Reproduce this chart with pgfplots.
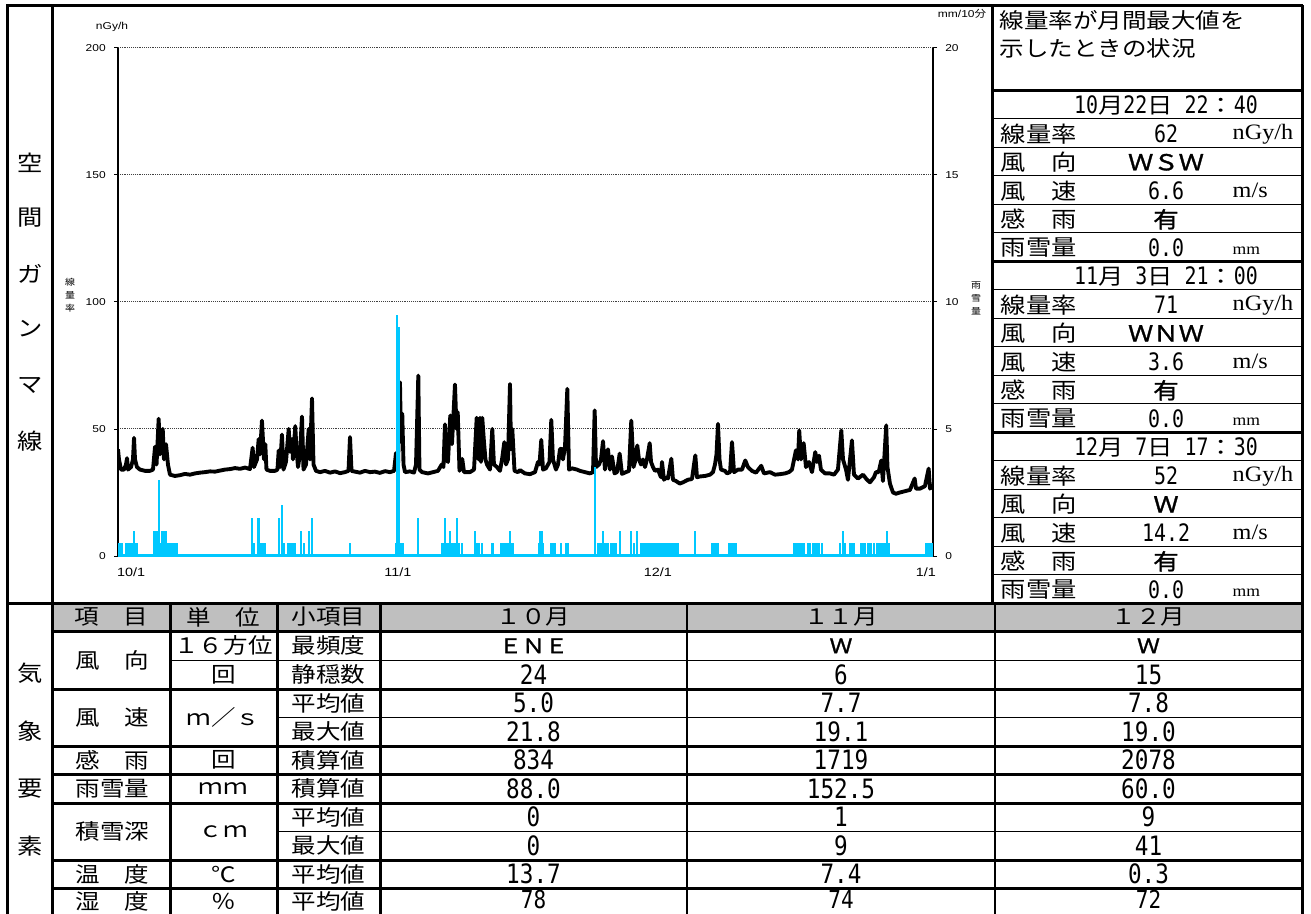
\documentclass[border=0pt]{standalone}
\usepackage{pgfplots}
\pgfplotsset{compat=1.18}
\usepackage{pgfplotstable}
\usepackage{fontspec}
\setmainfont{Liberation Sans}
\newfontfamily\jp{Noto Sans CJK JP}[FakeStretch=1.15]
\newfontfamily\jpb{Noto Sans CJK JP}[FakeStretch=1.15,FakeBold=1.5]
\newfontfamily\monoA{DejaVu Sans Mono}[FakeStretch=0.83]
\newfontfamily\monoB{DejaVu Sans Mono}[FakeStretch=0.85]
\newfontfamily\tk{Liberation Sans}[FakeStretch=1.2]
\newfontfamily\ser{Liberation Serif}[FakeStretch=1.1]
\newcommand\fs[1]{\fontsize{#1}{#1}\selectfont}
\newcommand\D[1]{{\monoA\fs{18}#1}}
\newcommand\J[1]{{\jp\fs{16.5}#1}}
\newcommand\B[1]{{\monoB\fs{20}#1}}
\newcommand\T[1]{{\jp\fs{16}#1}}
\newcommand\UG{{\ser\fs{16.5}nGy/h}}
\newcommand\UM{{\ser\fs{16.5}m/s}}
\definecolor{rain}{RGB}{0,200,255}

\pgfplotstableread{
d v
0 42
0.11 38
0.34 34
0.68 34
0.90 36
1.02 38.5
1.13 34
1.47 35
1.69 38
1.81 46.5
1.92 38
2.14 35
2.48 34
3.05 33.5
3.61 33.5
3.95 34
4.18 43
4.35 36
4.59 54
4.74 40
5.05 50
5.19 38
5.42 44
5.64 36
5.87 32
6.43 31.5
7.00 31.8
7.56 32.3
8.13 32
8.69 32.5
9.26 32.8
9.82 33
10.39 33.3
10.95 33.2
11.51 33.6
12.08 34
12.64 34.2
13.21 34.6
13.77 34.3
14.34 34.8
14.90 34.2
15.20 42.6
15.35 35
15.69 38
15.88 46
16.03 40
16.25 53.3
16.48 38
16.63 44
16.76 34
17.16 33.5
17.72 33.5
18.00 34
18.14 41.5
18.29 35
18.51 47.8
18.68 34
18.96 37
19.27 50
19.42 41
19.64 46
19.75 38
20.01 51.1
20.15 42
20.32 35
20.54 40
20.77 54.9
20.94 34
21.22 36
21.53 50
21.67 38
21.90 62
22.07 36
22.35 33.5
22.80 33
23.37 33.5
23.93 32.8
24.50 33.3
25.06 32.6
25.62 33
26.02 33.5
26.19 46.8
26.36 33.5
26.75 33.2
27.32 32.8
27.88 33.5
28.45 33
29.01 33.2
29.57 32.7
30.14 33.4
30.70 33
31.16 33.5
31.38 40.5
31.61 36
31.83 68.4
31.95 45
32.09 56
32.23 36
32.40 33
32.96 33.3
33.41 32.8
33.64 36
33.90 71
34.03 34
34.32 33
34.99 32.5
35.56 33
36.12 33.5
36.54 36
36.74 35
36.91 51.8
37.08 38
37.25 37
37.51 55.3
37.70 44
38.04 67.5
38.21 50
38.35 56.6
38.55 33.5
38.86 38.2
39.06 33
39.73 33
40.19 34
40.49 54.4
40.69 38
40.86 54.4
40.98 37
41.12 54.4
41.31 45
41.48 38
41.65 36
41.99 34
42.25 50
42.44 36
42.78 35
43.12 33.5
43.35 38
43.61 44.8
43.80 36
44.02 38
44.25 67.7
44.36 42
44.51 50
44.76 33.5
45.15 33
45.38 33.8
45.94 32.5
46.51 32.2
47.07 33
47.41 37
47.58 36
47.78 45.7
47.98 34
48.31 34.5
48.54 36
48.71 37
48.91 53.6
49.10 38
49.44 34
49.67 36
49.89 42
50.04 42.2
50.23 38
50.46 43
50.72 65.8
50.91 34
51.25 34.5
51.81 34
52.15 33.5
52.72 33
53.28 32.5
53.62 33
53.81 57.3
53.96 35
54.30 36
54.52 38
54.75 45.2
54.97 34
55.31 42
55.54 34
55.76 39.2
56.05 32.5
56.33 33
56.63 40.3
56.89 32.3
57.34 33
57.68 33.5
57.94 53.3
58.19 35
58.36 37
58.62 43.5
58.81 38
59.04 36
59.26 38
59.49 35
59.71 38
60.02 44.4
60.17 37
60.39 35
60.62 33.5
60.95 34
61.29 31
61.41 37
61.63 30
61.86 31
62.08 30.5
62.46 38.3
62.65 30
62.99 29.5
63.41 28.5
63.78 29
64.34 30
64.79 30.3
65.17 39.6
65.36 31
65.70 31.3
66.26 31.5
66.83 32
67.16 33
67.39 36
67.56 40
67.73 52
67.90 38
68.07 34
68.52 33.5
68.75 32.5
69.09 33
69.31 44.8
69.54 33
69.99 34
70.44 34
70.81 37.6
71.11 35
71.56 33.5
72.02 32.8
72.61 35.5
72.92 32.5
73.60 33
74.16 32
74.72 32.2
75.29 32.5
75.74 33
76.08 34
76.53 41.6
76.76 38
76.90 49.4
77.10 38
77.40 44.4
77.66 35
78.00 37
78.34 33
78.71 40.9
78.90 37
79.13 39.5
79.35 34
79.81 32.5
80.37 32.5
80.82 32
81.27 34
81.65 49.4
81.84 38
82.18 34
82.40 30
82.85 45.5
83.08 32
83.53 30.5
84.10 32
84.55 30
84.89 29
85.34 31
85.56 33
85.87 33
86.16 37.6
86.35 29.5
86.72 51.4
86.86 35
87.14 28.5
87.48 25
87.82 24.5
88.27 25
88.83 25.5
89.40 26
89.93 30.5
90.08 26.5
90.53 26.5
91.09 27.5
91.51 34.4
91.66 26.5
92.00 28
}\dose

\pgfplotstableread{
d p
0.08 0.5
0.28 0.5
0.45 0.5
0.96 0.5
1.19 0.5
1.52 0.5
1.69 0.5
1.84 1.0
1.98 0.5
2.14 0.5
4.12 1.0
4.35 1.0
4.59 3.0
4.77 0.5
4.97 1.0
5.19 1.0
5.42 1.0
5.64 0.5
5.87 0.5
6.10 0.5
6.32 0.5
6.60 0.5
15.13 1.5
15.32 0.5
15.80 1.5
15.95 1.5
16.20 0.5
16.42 0.5
16.63 0.5
18.14 1.5
18.51 2.0
18.70 0.5
19.19 0.5
19.42 0.5
19.64 0.5
19.87 0.5
20.01 0.5
20.69 1.0
20.96 0.5
21.59 1.0
21.90 1.5
26.19 0.5
31.38 0.5
31.53 9.5
31.72 9.0
31.89 0.5
32.11 0.5
33.83 1.5
36.54 0.5
36.72 0.5
36.91 1.5
37.10 0.5
37.28 0.5
37.48 1.0
37.67 0.5
37.87 0.5
38.04 0.5
38.30 1.5
38.49 0.5
38.80 0.5
40.30 1.0
40.49 0.5
40.75 0.5
41.12 0.5
42.18 0.5
42.36 0.5
43.23 0.5
43.46 0.5
43.68 0.5
43.91 0.5
44.06 0.5
44.25 1.0
44.44 0.5
44.62 0.5
47.49 0.5
47.64 1.0
47.81 1.0
47.98 0.5
48.91 0.5
49.16 0.5
49.29 0.5
50.04 0.5
50.61 0.5
50.80 0.5
53.81 3.5
54.18 0.5
54.41 0.5
54.63 0.5
54.78 1.0
54.97 0.5
55.20 0.5
55.31 0.5
55.68 0.5
55.88 0.5
56.05 0.5
56.25 0.5
56.67 1.0
57.94 1.0
58.25 0.5
58.58 1.0
59.00 0.5
59.21 0.5
59.43 0.5
59.66 0.5
59.88 0.5
60.11 0.5
60.33 0.5
60.56 0.5
60.79 0.5
61.01 0.5
61.24 0.5
61.46 0.5
61.69 0.5
61.91 0.5
62.14 0.5
62.37 0.5
62.59 0.5
62.82 0.5
63.04 0.5
63.21 0.5
65.17 1.0
67.09 0.5
67.28 0.5
67.50 0.5
67.73 0.5
69.00 0.5
69.19 0.5
69.42 0.5
69.64 0.5
69.75 0.5
76.38 0.5
76.59 0.5
76.81 0.5
77.04 0.5
77.21 0.5
77.40 0.5
77.88 0.5
78.14 0.5
78.52 0.5
78.73 0.5
78.90 0.5
79.09 0.5
79.47 0.5
81.53 0.5
81.84 1.0
82.10 0.5
82.66 0.5
82.85 0.5
83.05 0.5
83.90 0.5
84.15 0.5
84.35 0.5
84.73 0.5
85.00 0.5
85.30 0.5
85.68 0.5
85.90 0.5
86.13 0.5
86.35 0.5
86.58 0.5
86.80 1.0
87.00 0.5
91.21 0.5
91.43 0.5
91.66 0.5
91.88 0.5
}\rain

\begin{document}
\begin{tikzpicture}
\path[use as bounding box] (0pt,0pt) rectangle (983.25pt,-685.5pt);
\pgfplotsset{
  common/.style={
    at={(88.5pt,-417pt)}, anchor=south west, scale only axis,
    width=611.25pt, height=381.2pt, xmin=0, xmax=92,
    tick align=outside, major tick length=3pt,
    tick style={black, line width=0.6pt},
    axis line style={black, line width=0.8pt},
    /pgf/number format/assume math mode=true,
    yticklabel style={font=\tk\fs{7.5}},
  }
}
\begin{axis}[common,
  ymin=0, ymax=200, ytick={0,50,100,150,200},
  axis x line*=bottom, axis y line*=left,
  ymajorgrids, grid style={densely dotted, black!75, line width=0.7pt},
  xtick={1.47,31.6,60.95,91.2}, xticklabels={10/1,11/1,12/1,1/1},
  xtick style={draw=none},
  xticklabel style={font=\tk\fs{9}, anchor=north, inner sep=0pt, yshift=-6pt},
  yticklabel style={anchor=east, inner sep=0pt, xshift=-6pt},
]
\addplot[black, line width=2.9pt, line join=round] table[x=d,y=v]{\dose};
\end{axis}
\begin{axis}[common,
  ymin=0, ymax=20, ytick={0,5,10,15,20},
  axis y line*=right, axis x line=none,
  yticklabel style={anchor=west, inner sep=0pt, xshift=6pt},
]
\addplot[rain, line width=2.4pt] coordinates {(0,0) (92,0)};
\addplot[rain, ycomb, line width=1.7pt] table[x=d,y=p]{\rain};
\end{axis}

\begin{scope}[x=0.75pt,y=-0.75pt]
\clip (0,0) rectangle (1311,914);
% header fill
\fill[black!25] (52,603) rectangle (1302,631.5);
% thin lines
\draw[line width=0.9pt] (687,603)--(687,920) (995,603)--(995,920);
\draw[line width=0.75pt] (170,660)--(1302,660) (277,717.5)--(1302,717.5) (277,831.5)--(1302,831.5);
\foreach \k in {2,3,4,5,8,9,10,11,14,15,16,17}{\pgfmathsetmacro\yy{90+28.5*\k}\draw[line width=0.75pt] (992,\yy)--(1302,\yy);}
\foreach \k in {1,7,13}{\pgfmathsetmacro\yy{90+28.5*\k}\draw[line width=1.4pt] (992,\yy)--(1302,\yy);}
% thick lines
\begin{scope}[line width=2.25pt]
\draw (6,5)--(1303,5);
\draw (7,5)--(7,920);
\draw (52,5)--(52,920);
\draw (992,5)--(992,603);
\draw (1302,5)--(1302,920);
\draw (6,603)--(1303,603);
\draw (992,90)--(1302,90) (992,261)--(1302,261) (992,432)--(1302,432);
\draw (52,631.5)--(1302,631.5);
\foreach \y in {689,746,774.5,803,860,888.5} \draw (52,\y)--(1302,\y);
\foreach \x in {170,277,380} \draw (\x,603)--(\x,920);
\end{scope}

% chart labels
\node at (112,27) {\tk\fs{7.5}nGy/h};
\node at (962,14) {\tk\fs{7.5}mm/10{\jp\fs{7.5}分}};
\node[align=center, font=\jp\fs{6.5}] at (70,295) {線\\[3.2pt]量\\[3.2pt]率};
\node[align=center, font=\jp\fs{6.5}] at (976,298) {雨\\[3.2pt]雪\\[3.2pt]量};

% left column
\foreach \c/\y in {空/163,間/218,ガ/274,ン/329,マ/385,線/441,気/673,象/731,要/789,素/846}
  \node at (30,\y) {\J{\c}};

% right panel
\node[anchor=west] at (995,20) {\jp\fs{16}線量率が月間最大値を};
\node[anchor=west] at (995,48) {\jp\fs{16}示したときの状況};

\node at (1166,105.25) {\D{10}\J{月}\D{22}\J{日}\D{\ 22}\J{：}\D{40}};
\node at (1166,276.25) {\D{11}\J{月}\D{\ 3}\J{日}\D{\ 21}\J{：}\D{00}};
\node at (1166,447.25) {\D{12}\J{月}\D{\ 7}\J{日}\D{\ 17}\J{：}\D{30}};

\foreach \lab/\val/\unit/\y in {
  線量率/{\D{62}}/{\UG}/133.75,
  風　向/{\jpb\fs{16.5}ＷＳＷ}/{}/162.25,
  風　速/{\D{6.6}}/{\UM}/190.75,
  感　雨/{\jpb\fs{16.5}有}/{}/219.25,
  線量率/{\D{71}}/{\UG}/304.75,
  風　向/{\jpb\fs{16.5}ＷＮＷ}/{}/333.25,
  風　速/{\D{3.6}}/{\UM}/361.75,
  感　雨/{\jpb\fs{16.5}有}/{}/390.25,
  線量率/{\D{52}}/{\UG}/475.75,
  風　向/{\jpb\fs{16.5}Ｗ}/{}/504.25,
  風　速/{\D{14.2}}/{\UM}/532.75,
  感　雨/{\jpb\fs{16.5}有}/{}/561.25}{
  \node[anchor=west] at (996,\y) {\J{\lab}};
  \node at (1166,\y) {\val};
  \node[anchor=west] at (1228,\y) {\unit};
}
\foreach \y in {247.75,418.75,589.75}{
  \node[anchor=west] at (996,\y) {\J{雨雪量}};
  \node at (1166,\y) {\D{0.0}};
  \node[anchor=base west] at (1228,\y+7) {\ser\fs{12}mm};
}

% bottom table
\node at (111,617) {\T{項　目}};
\node at (223.5,617) {\T{単　位}};
\node at (328.5,617) {\T{小項目}};
\node at (533.5,617) {\T{１０月}};
\node at (841,617) {\T{１１月}};
\node at (1148.5,617) {\T{１２月}};

\node at (112.5,660.25) {\T{風　向}};
\node at (112.5,717.5) {\T{風　速}};
\node at (112.5,760.25) {\T{感　雨}};
\node at (112.5,788.75) {\T{雨雪量}};
\node at (112.5,831.5) {\T{積雪深}};
\node at (112.5,874.25) {\T{温　度}};
\node at (112.5,901) {\T{湿　度}};

\node at (223.5,645.75) {\T{１６方位}};
\node at (223.5,674.5) {\T{回}};
\node at (223.5,717.5) {\T{ｍ／ｓ}};
\node at (223.5,760.25) {\T{回}};
\node at (223.5,788.75) {\T{ｍｍ}};
\node at (223.5,831.5) {\T{ｃｍ}};
\node at (223.5,874.25) {\T{℃}};
\node at (223.5,901) {\T{％}};

\foreach \lab/\y in {最頻度/645.75,静穏数/674.5,平均値/703.25,最大値/731.75,積算値/760.25,積算値/788.75,平均値/817.25,最大値/845.75,平均値/874.25,平均値/901}
  \node at (328.5,\y) {\T{\lab}};

\node at (533.5,645.75) {{\jpb\fs{15}ＥＮＥ}};
\node at (841,645.75) {{\jpb\fs{15}Ｗ}};
\node at (1148.5,645.75) {{\jpb\fs{15}Ｗ}};
\foreach \a/\b/\c/\y in {24/6/15/674.5, 5.0/7.7/7.8/703.25, 21.8/19.1/19.0/731.75, 834/1719/2078/760.25, 88.0/152.5/60.0/788.75, 0/1/9/817.25, 0/9/41/845.75, 13.7/7.4/0.3/874.25}{
  \node at (533.5,\y) {\B{\a}};
  \node at (841,\y) {\B{\b}};
  \node at (1148.5,\y) {\B{\c}};
}
\foreach \a/\x in {78/533.5, 74/841, 72/1148.5}
  \node[inner sep=0pt] at (\x,899.5) {{\monoB\fs{18.5}\a}};
\end{scope}
\end{tikzpicture}
\end{document}
